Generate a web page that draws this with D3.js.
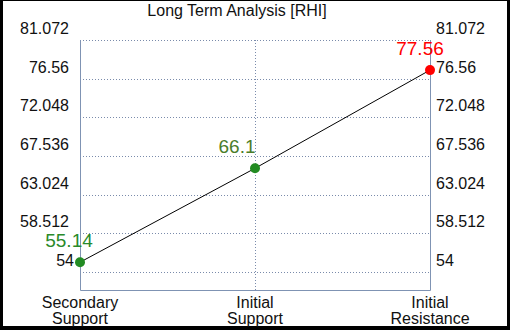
<!DOCTYPE html>
<html>
<head>
<meta charset="utf-8">
<script src="https://cdn.jsdelivr.net/npm/d3@7"></script>
<style>
body { margin: 0; background: #000; }
svg { display: block; }
text { font-family: "Liberation Sans", Arial, sans-serif; }
</style>
</head>
<body>
<div id="chart"></div>
<script>
var categories = ["Secondary\nSupport", "Initial\nSupport", "Initial\nResistance"];
var values = [55.14, 66.1, 77.56];
var pointColors = ["#228b22", "#228b22", "#ff0000"];
var labelColors = ["#2a8a2a", "#4a7d2a", "#ff0000"];
var yTicks = [54, 58.512, 63.024, 67.536, 72.048, 76.56, 81.072];

var width = 510, height = 330;
var margin = { top: 40, left: 80, right: 80, bottom: 40 };

var svg = d3.select("#chart").append("svg")
    .attr("width", width)
    .attr("height", height);

// white panel inside the black frame
svg.append("rect")
    .attr("x", 3).attr("y", 1)
    .attr("width", width - 6).attr("height", height - 5)
    .attr("fill", "#fff");

var x = d3.scalePoint()
    .domain(categories)
    .range([margin.left, width - margin.right]);

// 81.072 at top of plot, 54 a bit above the bottom edge
var y = d3.scaleLinear()
    .domain([54, 81.072])
    .range([272, 40]);
var bottom = 290;

var grid = svg.append("g");

// horizontal dotted gridlines
grid.selectAll(".hgrid")
    .data(yTicks)
    .enter().append("line")
    .attr("x1", margin.left).attr("x2", width - margin.right)
    .attr("y1", function (d) { return Math.round(y(d)) + 0.5; })
    .attr("y2", function (d) { return Math.round(y(d)) + 0.5; })
    .attr("stroke", "#7a8bab")
    .attr("stroke-dasharray", "1,2");

// vertical dotted gridline for middle category
grid.selectAll(".vgrid")
    .data(categories.slice(1, -1))
    .enter().append("line")
    .attr("x1", function (d) { return Math.round(x(d)) + 0.5; })
    .attr("x2", function (d) { return Math.round(x(d)) + 0.5; })
    .attr("y1", 40).attr("y2", bottom)
    .attr("stroke", "#7a8bab")
    .attr("stroke-dasharray", "1,2");

// solid frame: left, right, bottom
var axisColor = "#7f93b3";
svg.append("path")
    .attr("d", "M" + (margin.left + 0.5) + "," + 40 + "V" + (bottom + 0.5) +
        "H" + (width - margin.right + 0.5) + "V" + 40)
    .attr("fill", "none")
    .attr("stroke", axisColor);

// tick labels, left and right
svg.selectAll(".ltick")
    .data(yTicks)
    .enter().append("text")
    .attr("x", function (d) { return d == 54 ? 74 : 69; })
    .attr("y", function (d) { return y(d) - 6; })
    .attr("text-anchor", "end")
    .attr("font-size", 16)
    .attr("fill", "#111")
    .text(function (d) { return d; });

svg.selectAll(".rtick")
    .data(yTicks)
    .enter().append("text")
    .attr("x", 436)
    .attr("y", function (d) { return y(d) - 6; })
    .attr("text-anchor", "start")
    .attr("font-size", 16)
    .attr("fill", "#111")
    .text(function (d) { return d; });

// category labels
var cat = svg.selectAll(".cat")
    .data(categories)
    .enter().append("text")
    .attr("text-anchor", "middle")
    .attr("font-size", 16)
    .attr("fill", "#111");
cat.selectAll("tspan")
    .data(function (d) { return d.split("\n").map(function (s) { return { s: s, c: d }; }); })
    .enter().append("tspan")
    .attr("x", function (d) { return x(d.c); })
    .attr("y", function (d, i) { return 308 + i * 16; })
    .text(function (d) { return d.s; });

// title
svg.append("text")
    .attr("x", 237).attr("y", 16)
    .attr("text-anchor", "middle")
    .attr("font-size", 16)
    .attr("fill", "#111")
    .text("Long Term Analysis [RHI]");

// line + points
var pts = values.map(function (v, i) { return { c: categories[i], v: v, i: i }; });

svg.append("path")
    .datum(pts)
    .attr("d", d3.line()
        .x(function (d) { return x(d.c); })
        .y(function (d) { return y(d.v); }))
    .attr("fill", "none")
    .attr("stroke", "#000")
    .attr("stroke-width", 1);

svg.selectAll(".pt")
    .data(pts)
    .enter().append("circle")
    .attr("cx", function (d) { return x(d.c); })
    .attr("cy", function (d) { return y(d.v); })
    .attr("r", 5)
    .attr("fill", function (d) { return pointColors[d.i]; });

var labelDx = [-11, -18, -10];
svg.selectAll(".vlab")
    .data(pts)
    .enter().append("text")
    .attr("x", function (d) { return x(d.c) + labelDx[d.i]; })
    .attr("y", function (d) { return y(d.v) - 15; })
    .attr("text-anchor", "middle")
    .attr("font-size", 19)
    .attr("fill", function (d) { return labelColors[d.i]; })
    .text(function (d) { return d.v; });
</script>
</body>
</html>
